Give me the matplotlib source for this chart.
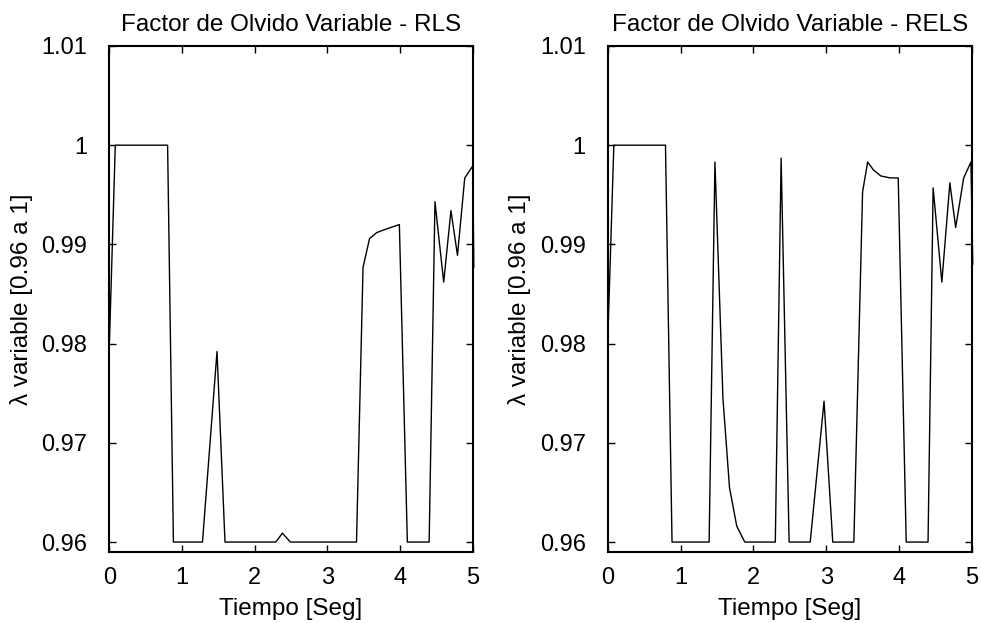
import matplotlib
matplotlib.use("Agg")
import matplotlib.pyplot as plt

plt.rcParams['font.family'] = ['Liberation Sans', 'DejaVu Sans']

# Forgetting factor, RLS estimator
t_rls = [0.0, 0.08, 0.80, 0.88, 1.28, 1.48, 1.59, 2.29, 2.38, 2.49, 3.40, 3.49,
         3.58, 3.68, 3.79, 3.99, 4.10, 4.40, 4.48, 4.60, 4.70, 4.79, 4.89, 5.0, 5.015]
lam_rls = [0.9803, 1.0, 1.0, 0.96, 0.96, 0.9792, 0.96, 0.96, 0.9609, 0.96, 0.96, 0.9877,
           0.9906, 0.9912, 0.9915, 0.9920, 0.96, 0.96, 0.9943, 0.9862, 0.9934, 0.9889,
           0.9967, 0.9979, 0.9877]

# Forgetting factor, RELS estimator
t_rels = [0.0, 0.08, 0.79, 0.88, 1.39, 1.47, 1.58, 1.67, 1.77, 1.88, 2.30, 2.38,
          2.49, 2.78, 2.97, 3.09, 3.38, 3.50, 3.57, 3.65, 3.75, 3.88, 3.99, 4.10,
          4.40, 4.47, 4.59, 4.70, 4.78, 4.89, 4.99, 5.015]
lam_rels = [0.9812, 1.0, 1.0, 0.96, 0.96, 0.9983, 0.9745, 0.9655, 0.9616, 0.96, 0.96, 0.9987,
            0.96, 0.96, 0.9742, 0.96, 0.96, 0.9953, 0.9983, 0.9975, 0.9969, 0.9967, 0.9967, 0.96,
            0.96, 0.9957, 0.9862, 0.9962, 0.9917, 0.9967, 0.9983, 0.9880]

titles = ['Factor de Olvido Variable - RLS', 'Factor de Olvido Variable - RELS']
yticks = [0.96, 0.97, 0.98, 0.99, 1.0, 1.01]
ytick_labels = ['0.96', '0.97', '0.98', '0.99', '1', '1.01']
xticks = [0, 1, 2, 3, 4, 5]

fig = plt.figure(figsize=(9.81, 6.23), dpi=100)
ax1 = fig.add_axes([0.1116, 0.1140, 0.3703, 0.8122])
ax2 = fig.add_axes([0.6198, 0.1140, 0.3707, 0.8122])

for ax, t, lam, title in [(ax1, t_rls, lam_rls, titles[0]), (ax2, t_rels, lam_rels, titles[1])]:
    ax.plot(t, lam, color='black', linewidth=1.0, clip_on=False)
    ax.set_xlim(0, 5)
    ax.set_ylim(0.959, 1.01)
    ax.set_xticks(xticks)
    ax.set_xticklabels([str(v) for v in xticks])
    ax.set_yticks(yticks)
    ax.set_yticklabels(ytick_labels)
    ax.tick_params(direction='in', length=5, width=1.0, top=True, right=True,
                   labelsize=17)
    ax.tick_params(axis='x', pad=11)
    ax.tick_params(axis='y', pad=16)
    for s in ax.spines.values():
        s.set_linewidth(1.5)
    ax.set_title(title, fontsize=17.5, pad=11)
    ax.set_xlabel('Tiempo [Seg]', fontsize=17.5, labelpad=6)
    ax.set_ylabel('λ variable [0.96 a 1]', fontsize=17.5, labelpad=6)

fig.savefig('out.png', dpi=100)
